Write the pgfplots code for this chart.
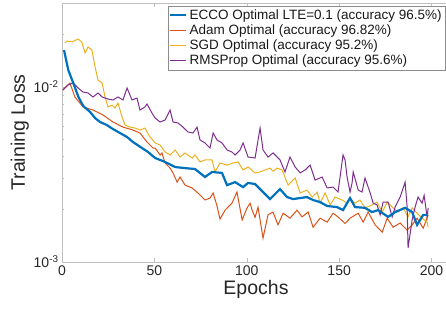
\documentclass[border=0pt]{standalone}
\usepackage{pgfplots}
\pgfplotsset{compat=1.18}
\usepackage{fontspec}
\setmainfont{Liberation Sans}
\definecolor{mblue}{rgb}{0,0.447,0.741}
\definecolor{morange}{rgb}{0.85,0.325,0.098}
\definecolor{myellow}{rgb}{0.929,0.694,0.125}
\definecolor{mpurple}{rgb}{0.494,0.184,0.556}
\definecolor{axgray}{gray}{0.75}
\begin{document}
\begin{tikzpicture}
\begin{axis}[
  scale only axis, width=388pt, height=259pt,
  xmin=0, xmax=210, ymin=0.001, ymax=0.0302,
  ymode=log,
  xtick={0,50,100,150,200},
  ytick={0.001,0.01},
  yticklabels={10\textsuperscript{-3},10\textsuperscript{-2}},
  minor ytick={0.002,0.003,0.004,0.005,0.006,0.007,0.008,0.009,0.02,0.03},
  tick align=inside,
  major tick length=4pt, minor tick length=2.5pt,
  axis line style={axgray},
  every tick/.style={axgray},
  /pgf/number format/assume math mode=true,
  ticklabel style={font=\fontsize{14}{16}\selectfont, text=black!85},
  xlabel={Epochs}, ylabel={Training Loss},
  label style={font=\fontsize{19.5}{22}\selectfont, text=black!85},
  xlabel style={yshift=2pt},
  ylabel style={yshift=-2pt},
  legend cell align=left,
  legend style={at={(1,0.99)}, anchor=north east, xshift=-4.5pt, draw=black!45, line width=0.5pt,
    font=\fontsize{13.5}{16}\selectfont, inner sep=1.5pt, row sep=0pt,
    text=black!90},
  legend image code/.code={\draw[#1] (0pt,0pt) -- (16pt,0pt);},
]
\addlegendimage{mblue, line width=2.2pt}
\addlegendentry{ECCO Optimal LTE=0.1 (accuracy 96.5\%)}
\addlegendimage{morange, line width=1pt}
\addlegendentry{Adam Optimal (accuracy 96.82\%)}
\addlegendimage{myellow, line width=1pt}
\addlegendentry{SGD Optimal (accuracy 95.2\%)}
\addlegendimage{mpurple, line width=1pt}
\addlegendentry{RMSProp Optimal (accuracy 95.6\%)}

% Adam
\addplot[morange, line width=1pt, forget plot] coordinates {
(0.5,0.00961) (4.3,0.01054) (7.0,0.00877) (11.4,0.00769) (16.8,0.00739)
(22.2,0.00692) (27.6,0.00631) (33.0,0.0059) (38.4,0.00568) (42.2,0.00546)
(46.0,0.00485) (49.3,0.00448) (50.4,0.00448) (53.1,0.00409) (54.1,0.0042)
(55.8,0.00368) (58.5,0.00344) (60.1,0.00323) (62.3,0.00286) (63.9,0.00306)
(66.6,0.00275) (70.4,0.00265) (73.6,0.00248) (77.4,0.00226) (80.1,0.00232)
(81.8,0.00248) (83.9,0.00209) (85.5,0.00176) (88.3,0.00198) (92.0,0.00217)
(94.7,0.00251) (97.5,0.00174) (100.2,0.00204) (101.8,0.00217) (102.9,0.00198)
(104.5,0.00180) (106.1,0.00206) (108.8,0.00137) (111.5,0.00186) (114.2,0.00193)
(116.9,0.00163) (119.7,0.0019) (123.4,0.00178) (127.2,0.00198) (129.9,0.00181)
(133.2,0.00193) (135.9,0.00158) (139.7,0.00178) (143.5,0.00169) (146.7,0.0019)
(149.4,0.00181) (153.2,0.00166) (155.9,0.00178) (160.3,0.0019) (163.0,0.00169)
(165.7,0.00193) (169.5,0.00163) (173.3,0.00148) (176.0,0.00178) (179.2,0.00158)
(183.0,0.00167) (186.8,0.00152) (189.5,0.00163) (192.2,0.00178) (195.5,0.00156)
(198.2,0.00186)
};
% SGD
\addplot[myellow, line width=1pt, forget plot] coordinates {
(1.6,0.01783) (2.7,0.01832) (5.4,0.0181) (8.7,0.01879) (10.7,0.0181)
(12.5,0.01563) (14.1,0.01693) (16.2,0.01626) (17.9,0.013) (19.5,0.01096)
(21.7,0.01054) (23.3,0.00877) (24.9,0.00769) (27.1,0.00789) (28.7,0.00759)
(30.3,0.0081) (32.5,0.00674) (34.1,0.00607) (36.8,0.0059) (39.5,0.00583)
(42.2,0.00568) (44.9,0.00583) (47.0,0.0053) (50.4,0.00479) (53.1,0.00466)
(55.8,0.00425) (58.5,0.00409) (61.2,0.00437) (63.9,0.00398) (66.6,0.0042)
(70.4,0.00393) (72.0,0.00409) (74.7,0.00373) (77.4,0.00383) (81.2,0.00383)
(82.8,0.00327) (85.5,0.00368) (89.3,0.00358) (92.6,0.00368) (95.3,0.00373)
(98.0,0.00336) (100.7,0.00349) (104.5,0.00323) (107.2,0.00327) (110.0,0.00336)
(112.6,0.00344) (114.2,0.0033) (116.4,0.00344) (119.1,0.00336) (122.4,0.00275)
(124.5,0.0029) (126.2,0.00302) (128.9,0.00248) (132.6,0.00258) (135.4,0.00235)
(138.1,0.00251) (139.7,0.00217) (142.4,0.00248) (145.1,0.00212) (147.8,0.00235)
(151.6,0.00226) (154.3,0.00217) (155.9,0.00232) (158.6,0.00217) (161.3,0.00226)
(164.0,0.00204) (167.8,0.00212) (170.5,0.0022) (173.3,0.00193) (176.0,0.0022)
(178.7,0.00206) (181.9,0.00193) (184.6,0.00204) (187.3,0.00181) (189.5,0.00204)
(192.2,0.0019) (194.9,0.00178) (197.6,0.00169) (198.2,0.00158)
};
% RMSProp
\addplot[mpurple, line width=1pt, forget plot] coordinates {
(0.5,0.00961) (3.2,0.01027) (6.0,0.01054) (8.7,0.00987) (11.4,0.00936)
(14.1,0.00924) (16.8,0.00877) (19.5,0.00924) (21.7,0.00877) (24.9,0.00854)
(27.6,0.00843) (30.3,0.00877) (33.0,0.00843) (35.2,0.00987) (37.9,0.00843)
(40.6,0.00865) (42.2,0.00739) (44.9,0.00769) (46.0,0.0080) (48.7,0.0071)
(50.4,0.00665) (53.1,0.00631) (55.8,0.00648) (58.5,0.00739) (60.1,0.00631)
(62.8,0.00623) (65.5,0.0059) (68.2,0.00553) (70.9,0.00546) (73.1,0.0059)
(74.7,0.00498) (77.4,0.00479) (80.1,0.00448) (81.8,0.00546) (83.9,0.00498)
(86.6,0.00479) (89.3,0.00437) (92.0,0.00425) (93.7,0.00409) (96.4,0.00437)
(98.0,0.00479) (100.7,0.00398) (104.5,0.00393) (107.2,0.00583) (108.8,0.00437)
(111.5,0.00398) (114.2,0.0042) (118.0,0.00383) (120.7,0.00327) (123.4,0.00398)
(126.2,0.00349) (128.9,0.00323) (131.6,0.00336) (134.3,0.00358) (137.0,0.00294)
(140.8,0.00306) (143.5,0.00265) (146.7,0.00268) (149.4,0.00251) (152.1,0.00409)
(153.2,0.00383) (154.3,0.00306) (155.9,0.00251) (157.0,0.00283) (157.6,0.00327)
(160.3,0.00258) (162.4,0.00251) (164.0,0.00302) (166.8,0.00248) (168.4,0.00217)
(170.5,0.00212) (172.2,0.00186) (173.8,0.0022) (176.5,0.0022) (178.7,0.00181)
(180.3,0.00206) (183.0,0.00235) (185.7,0.00286) (186.8,0.00206) (187.3,0.0012)
(189.5,0.00174) (191.1,0.00206) (192.7,0.00235) (194.9,0.00217) (196.0,0.0024)
(197.6,0.00181) (198.2,0.00204)
};
% ECCO
\addplot[mblue, line width=2.2pt, forget plot] coordinates {
(1.1,0.01626) (3.4,0.0125) (6.1,0.01054) (8.9,0.00877) (11.5,0.00779)
(15.2,0.0072) (17.9,0.00665) (20.6,0.00631) (24.2,0.00607) (27.6,0.00575)
(31.4,0.00546) (35.2,0.00518) (38.4,0.00485) (43.3,0.00448) (46.6,0.00425)
(50.4,0.00393) (53.1,0.00383) (55.8,0.00373) (61.2,0.00349) (66.6,0.00344)
(72.0,0.0034) (77.4,0.00306) (81.2,0.00327) (86.6,0.00323) (89.3,0.00275)
(93.7,0.00286) (98.0,0.00268) (100.7,0.00283) (104.5,0.00279) (108.8,0.00251)
(112.6,0.00229) (118.0,0.00261) (121.8,0.00235) (125.1,0.00229) (128.9,0.00232)
(132.6,0.00235) (135.9,0.00226) (139.7,0.0022) (143.5,0.00209) (148.9,0.00206)
(152.1,0.00198) (155.9,0.00232) (158.6,0.00206) (164.0,0.00204) (167.8,0.00193)
(171.1,0.00198) (176.5,0.00181) (180.3,0.00193) (185.7,0.00204) (189.5,0.00193)
(192.2,0.00163) (195.5,0.00186) (198.2,0.00186)
};
\end{axis}
\pgfresetboundingbox
\path[use as bounding box] ([shift={(-62pt,-50pt)}]current axis.south west) rectangle ([shift={(-4pt,3pt)}]current axis.north east);
\end{tikzpicture}
\end{document}
